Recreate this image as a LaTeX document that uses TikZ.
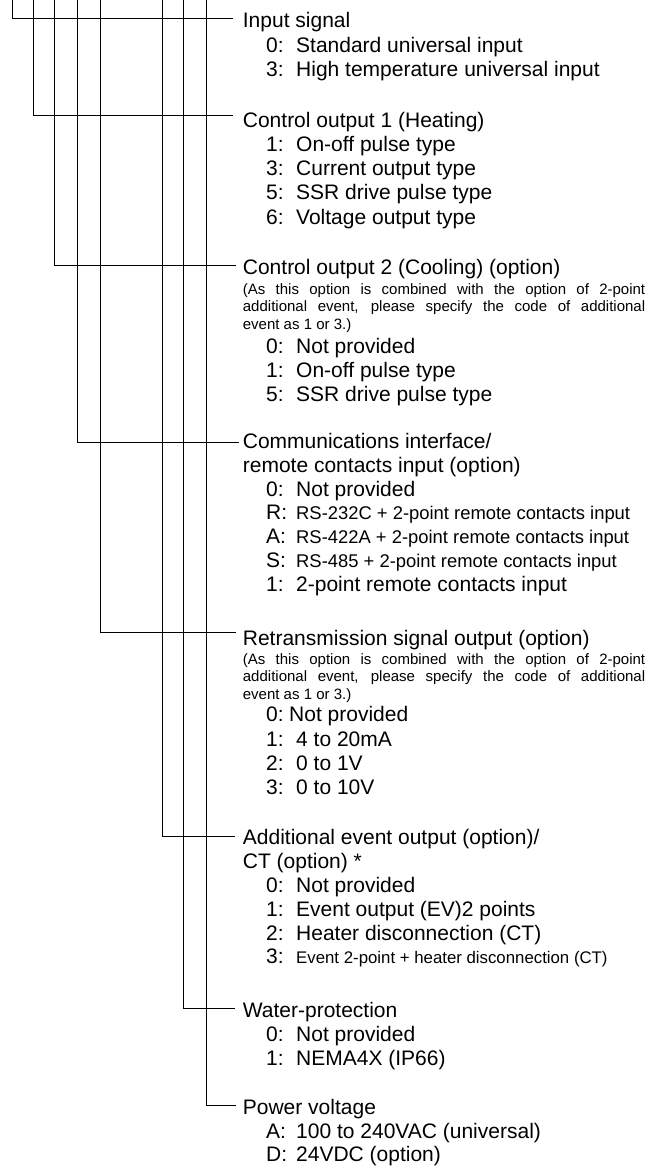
\documentclass[tikz,border=0pt]{standalone}
\usepackage{fontspec}
\setmainfont{Liberation Sans}
\newcommand\ic[2]{\makebox[30pt][l]{#1}#2}
\newcommand\icn[2]{\makebox[23pt][l]{#1}#2}
\newcommand\smallrs{\fontsize{18.4}{20}\selectfont}
\newcommand\smallev{\fontsize{16.8}{19}\selectfont}
\begin{document}
\begin{tikzpicture}[x=1pt,y=-1pt,
  conn/.style={draw=black,line width=1pt},
  hdr/.style={anchor=base west,inner sep=0pt,font=\fontsize{21}{24}\selectfont},
  itm/.style={anchor=base west,inner sep=0pt,font=\fontsize{21}{24}\selectfont},
  note/.style={anchor=base west,inner sep=0pt,font=\fontsize{15}{17}\selectfont}]
\useasboundingbox (0,0) rectangle (647,1169);
% top ends of the vertical lines
\coordinate (t1) at (12,0);
\coordinate (t2) at (33,0);
\coordinate (t3) at (54,0);
\coordinate (t4) at (77,0);
\coordinate (t5) at (100,0);
\coordinate (t6) at (162,0);
\coordinate (t7) at (183,0);
\coordinate (t8) at (206,0);
% line ends
\coordinate (e1) at (233,18.3);
\coordinate (e2) at (233,115.7);
\coordinate (e3) at (236,265);
\coordinate (e4) at (239,442);
\coordinate (e5) at (236,632.7);
\coordinate (e6) at (235,836);
\coordinate (e7) at (235,1008);
\coordinate (e8) at (236,1105);
\draw[conn] (t1) |- (e1);
\draw[conn] (t2) |- (e2);
\draw[conn] (t3) |- (e3);
\draw[conn] (t4) |- (e4);
\draw[conn] (t5) |- (e5);
\draw[conn] (t6) |- (e6);
\draw[conn] (t7) |- (e7);
\draw[conn] (t8) |- (e8);
% group 1
\node[hdr] (h1) at (242.7,27.7) {Input signal};
\node[itm] (h1a) at (266,52.5) {\ic{0:}{Standard universal input}};
\node[itm] (h1b) at (266,77) {\ic{3:}{High temperature universal input}};
% group 2
\node[hdr] (h2) at (242.7,127.5) {Control output 1 (Heating)};
\node[itm] (h2a) at (266,151.3) {\ic{1:}{On-off pulse type}};
\node[itm] (h2b) at (266,175.6) {\ic{3:}{Current output type}};
\node[itm] (h2c) at (266,200) {\ic{5:}{SSR drive pulse type}};
\node[itm] (h2d) at (266,224.3) {\ic{6:}{Voltage output type}};
% group 3
\node[hdr] (h3) at (242.7,274.3) {Control output 2 (Cooling) (option)};
\node[note] (h3n1) at (242.7,294.3) {\makebox[402.3pt][s]{(As this option is combined with the option of 2-point}};
\node[note] (h3n2) at (242.7,311.7) {\makebox[402.3pt][s]{additional event, please specify the code of additional}};
\node[note] (h3n3) at (242.7,329.1) {event as 1 or 3.)};
\node[itm] (h3a) at (266,353.3) {\ic{0:}{Not provided}};
\node[itm] (h3b) at (266,377.5) {\ic{1:}{On-off pulse type}};
\node[itm] (h3c) at (266,401.8) {\ic{5:}{SSR drive pulse type}};
% group 4
\node[hdr] (h4) at (242.7,448.5) {Communications interface/};
\node[hdr] (h4s) at (242.7,472.3) {remote contacts input (option)};
\node[itm] (h4a) at (266,496.1) {\ic{0:}{Not provided}};
\node[itm] (h4b) at (266,519.9) {\ic{R:}{\smallrs RS-232C + 2-point remote contacts input}};
\node[itm] (h4c) at (266,543.7) {\ic{A:}{\smallrs RS-422A + 2-point remote contacts input}};
\node[itm] (h4d) at (266,567.5) {\ic{S:}{\smallrs RS-485 + 2-point remote contacts input}};
\node[itm] (h4e) at (266,591.3) {\ic{1:}{2-point remote contacts input}};
% group 5
\node[hdr] (h5) at (242.7,645.5) {Retransmission signal output (option)};
\node[note] (h5n1) at (242.7,664.3) {\makebox[402.3pt][s]{(As this option is combined with the option of 2-point}};
\node[note] (h5n2) at (242.7,681.7) {\makebox[402.3pt][s]{additional event, please specify the code of additional}};
\node[note] (h5n3) at (242.7,699.1) {event as 1 or 3.)};
\node[itm] (h5a) at (266,721.7) {\icn{0:}{Not provided}};
\node[itm] (h5b) at (266,746) {\ic{1:}{4 to 20mA}};
\node[itm] (h5c) at (266,770) {\ic{2:}{0 to 1V}};
\node[itm] (h5d) at (266,794) {\ic{3:}{0 to 10V}};
% group 6
\node[hdr] (h6) at (242.7,844.5) {Additional event output (option)/};
\node[hdr] (h6s) at (242.7,868.3) {CT (option) *};
\node[itm] (h6a) at (266,892) {\ic{0:}{Not provided}};
\node[itm] (h6b) at (266,916) {\ic{1:}{Event output (EV)2 points}};
\node[itm] (h6c) at (266,940) {\ic{2:}{Heater disconnection (CT)}};
\node[itm] (h6d) at (266,963.5) {\ic{3:}{\smallev Event 2-point + heater disconnection (CT)}};
% group 7
\node[hdr] (h7) at (242.7,1017) {Water-protection};
\node[itm] (h7a) at (266,1041) {\ic{0:}{Not provided}};
\node[itm] (h7b) at (266,1065) {\ic{1:}{NEMA4X (IP66)}};
% group 8
\node[hdr] (h8) at (242.7,1114) {Power voltage};
\node[itm] (h8a) at (266,1138) {\ic{A:}{100 to 240VAC (universal)}};
\node[itm] (h8b) at (266,1161) {\ic{D:}{24VDC (option)}};
\end{tikzpicture}
\end{document}
